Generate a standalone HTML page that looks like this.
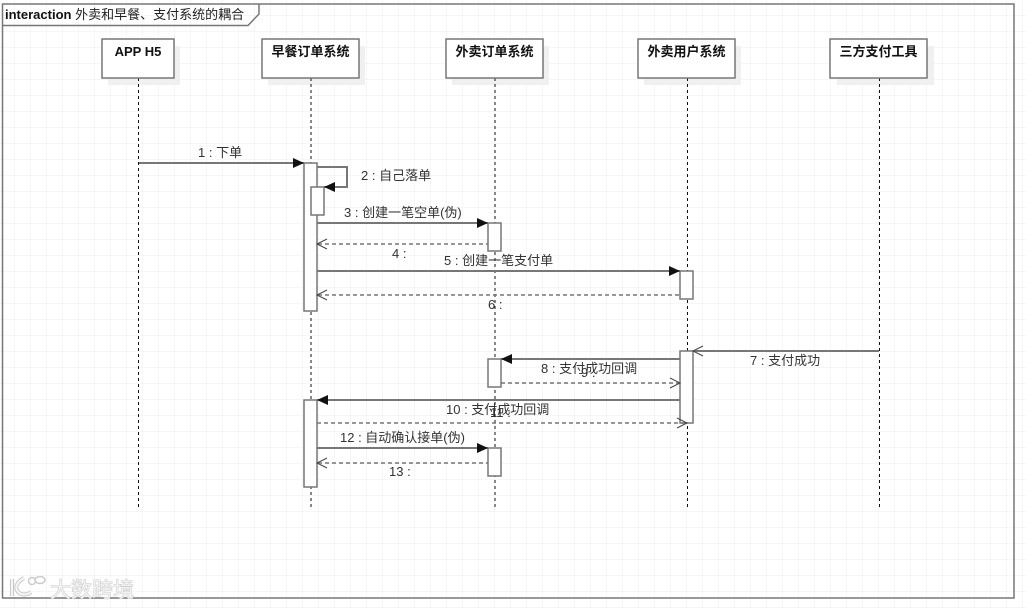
<!DOCTYPE html>
<html><head><meta charset="utf-8">
<style>
html,body{margin:0;padding:0;background:#fff;width:1026px;height:608px;overflow:hidden}
svg{display:block;position:absolute;left:0;top:0}
text{font-family:"Liberation Sans","Noto Sans CJK SC",sans-serif;font-size:13px;fill:#333}
.b{font-weight:bold;fill:#111}
.s{stroke:#777;stroke-width:2;fill:none}
.d{stroke:#777;stroke-width:1.5;fill:none;stroke-dasharray:4 3}
.l{stroke:#111;stroke-width:1;stroke-dasharray:3 3;fill:none}
.a{fill:#fff;stroke:#777;stroke-width:1.5}
.o{fill:none;stroke:#444;stroke-width:1}
.box{fill:#fff;stroke:#777;stroke-width:1.5}
.sh{fill:#f0f0f0}
</style></head><body>
<svg width="1026" height="608" viewBox="0 0 1026 608" xmlns="http://www.w3.org/2000/svg">
<defs>
<pattern id="g" width="16" height="16" patternUnits="userSpaceOnUse" x="-1" y="0">
<path d="M16 0V16M0 16H16" stroke="#eeeeee" stroke-width="1" fill="none"/>
</pattern>
</defs>
<rect width="1026" height="608" fill="#fff"/>
<rect width="1026" height="608" fill="url(#g)"/>

<!-- frame -->
<rect x="2.5" y="4" width="1011.5" height="594" fill="none" stroke="#777" stroke-width="1.5"/>
<path d="M3 25.5H248L259 14V4" fill="none" stroke="#777" stroke-width="1.5"/>
<text x="5" y="19" style="fill:#222"><tspan class="b">interaction</tspan> 外卖和早餐、支付系统的耦合</text>

<!-- shadows -->
<rect class="sh" x="108" y="46" width="72" height="39"/>
<rect class="sh" x="268" y="46" width="97" height="39"/>
<rect class="sh" x="452" y="46" width="97" height="39"/>
<rect class="sh" x="644" y="46" width="97" height="39"/>
<rect class="sh" x="837" y="46" width="97" height="39"/>

<!-- lifelines -->
<path class="l" d="M138.5 78V508M311 78V508M495 78V508M687.5 78V508M879.5 78V508"/>

<!-- heads -->
<rect class="box" x="102" y="39" width="72" height="39"/>
<rect class="box" x="262" y="39" width="97" height="39"/>
<rect class="box" x="446" y="39" width="97" height="39"/>
<rect class="box" x="638" y="39" width="97" height="39"/>
<rect class="box" x="830" y="39" width="97" height="39"/>
<text class="b" x="138" y="56" text-anchor="middle">APP H5</text>
<text class="b" x="310.500" y="56" text-anchor="middle">早餐订单系统</text>
<text class="b" x="494.500" y="56" text-anchor="middle">外卖订单系统</text>
<text class="b" x="686.500" y="56" text-anchor="middle">外卖用户系统</text>
<text class="b" x="878.500" y="56" text-anchor="middle">三方支付工具</text>

<!-- activations -->
<rect class="a" x="304" y="163" width="13" height="148"/>
<rect class="a" x="311" y="187" width="13" height="28"/>
<rect class="a" x="488" y="223" width="13" height="28"/>
<rect class="a" x="680" y="271" width="13" height="28"/>
<rect class="a" x="680" y="351" width="13" height="72"/>
<rect class="a" x="488" y="359" width="13" height="28"/>
<rect class="a" x="304" y="400" width="13" height="87"/>
<rect class="a" x="488" y="448" width="13" height="28"/>

<!-- 1 -->
<path class="s" d="M139 163H304"/>
<path d="M293 158L304 163L293 168Z" fill="#111"/>
<text x="198" y="157">1 : 下单</text>
<!-- 2 -->
<path class="s" d="M317 167H347V187H324"/>
<path d="M335 182L324 187L335 192Z" fill="#111"/>
<text x="361" y="180">2 : 自己落单</text>
<!-- 3 -->
<path class="s" d="M317 223H488"/>
<path d="M477 218L488 223L477 228Z" fill="#111"/>
<text x="344" y="217">3 : 创建一笔空单(伪)</text>
<!-- 4 -->
<path class="d" d="M318 244H488"/>
<path class="o" d="M327 239L317 244L327 249"/>
<text x="392" y="258">4 :</text>
<!-- 5 -->
<path class="s" d="M317 271H680"/>
<path d="M669 266L680 271L669 276Z" fill="#111"/>
<text x="444" y="265">5 : 创建一笔支付单</text>
<!-- 6 -->
<path class="d" d="M318 295H680"/>
<path class="o" d="M327 290L317 295L327 300"/>
<text x="488" y="309">6 :</text>
<!-- 7 -->
<path class="s" d="M694 351H879"/>
<path class="o" d="M703 346L693 351L703 356"/>
<text x="750" y="365">7 : 支付成功</text>
<!-- 8 -->
<path class="s" d="M501 359H680"/>
<path d="M512 354L501 359L512 364Z" fill="#111"/>
<text x="541" y="373">8 : 支付成功回调</text>
<!-- 9 -->
<path class="d" d="M501 383H679"/>
<path class="o" d="M670 378L680 383L670 388"/>
<text x="581" y="377">9 :</text>
<!-- 10 -->
<path class="s" d="M317 400H680"/>
<path d="M328 395L317 400L328 405Z" fill="#111"/>
<text x="446" y="414">10 : 支付成功回调</text>
<!-- 11 -->
<path class="d" d="M317 423H686"/>
<path class="o" d="M677 418L687 423L677 428"/>
<text x="490" y="417">11 :</text>
<!-- 12 -->
<path class="s" d="M317 448H488"/>
<path d="M477 443L488 448L477 453Z" fill="#111"/>
<text x="340" y="442">12 : 自动确认接单(伪)</text>
<!-- 13 -->
<path class="d" d="M318 463H488"/>
<path class="o" d="M327 458L317 463L327 468"/>
<text x="389" y="476">13 :</text>

<!-- watermark -->
<g>
<path d="M12 579V596M24 578C17 582 15 587 17 590C19 595 26 596 31 592" fill="none" stroke="#c4c4c4" stroke-width="4"/>
<path d="M12 579V596M24 578C17 582 15 587 17 590C19 595 26 596 31 592" fill="none" stroke="#f6f6f6" stroke-width="2.200"/>
<circle cx="32" cy="581" r="3.500" fill="none" stroke="#ccc" stroke-width="1.500"/>
<ellipse cx="40" cy="580" rx="5" ry="3.500" fill="none" stroke="#ccc" stroke-width="1.500"/>
<text x="50" y="597" style="font-size:21px;fill:#f2f2f2;stroke:#c0c0c0;stroke-width:.8;paint-order:stroke">大数跨境</text>
</g>
</svg>
</body></html>
